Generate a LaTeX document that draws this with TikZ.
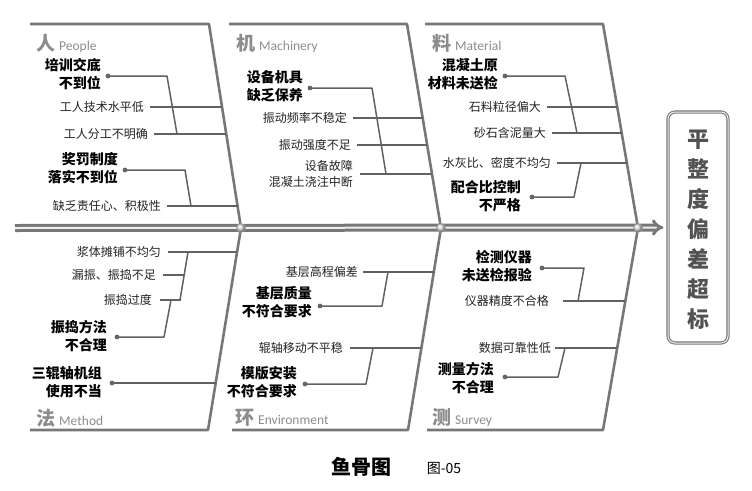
\documentclass[tikz,border=0pt]{standalone}
\usepackage{fontspec}
\setmainfont{Noto Sans CJK SC}
\newfontfamily\latinf{Carlito}
\usetikzlibrary{arrows.meta,calc,shadings}
\definecolor{linegray}{HTML}{777777}
\definecolor{labgray}{HTML}{8C8C8C}
\definecolor{txt}{HTML}{222222}
\begin{document}
\begin{tikzpicture}[x=1pt,y=-1pt,
 frame/.style={draw=linegray, line width=2.6pt, line join=round},
 sub/.style={draw=black!62, line width=1.5pt, line join=round},
 item/.style={inner sep=0pt, text=txt, font=\fontsize{12}{16}\selectfont, align=right, anchor=east},
 bolditem/.style={inner sep=0pt, text=black, font=\fontsize{14}{18}\selectfont\bfseries, align=right, anchor=east},
 cat/.style={inner sep=0pt, anchor=west, text=labgray},
 dotc/.style={fill=black!60, draw=none},
 ball/.style={ball color=gray!25, draw=gray!70, line width=0.4pt},
]
\useasboundingbox (0,0) rectangle (752,490);

% ---------- frames (bones) ----------
\coordinate (TLa) at (30,24);  \coordinate (TLb) at (209,24);  \coordinate (J1) at (241,228);
\coordinate (TMa) at (229,24); \coordinate (TMb) at (407,24);  \coordinate (J2) at (441,228);
\coordinate (TRa) at (425,24); \coordinate (TRb) at (603,24);  \coordinate (J3) at (638,228);
\coordinate (BLa) at (30,430);  \coordinate (BLb) at (208,430);
\coordinate (BMa) at (232,430); \coordinate (BMb) at (408,430);
\coordinate (BRa) at (427,430); \coordinate (BRb) at (603,430);
\draw[frame] (TLa) -- (TLb) -- (J1);
\draw[frame] (TMa) -- (TMb) -- (J2);
\draw[frame] (TRa) -- (TRb) -- (J3);
\draw[frame] (BLa) -- (BLb) -- (J1);
\draw[frame] (BMa) -- (BMb) -- (J2);
\draw[frame] (BRa) -- (BRb) -- (J3);

% ---------- spine ----------
\coordinate (sp0) at (15,228);
\node[draw=linegray, line width=1.1pt, double=gray!12, double distance=1pt, rounded corners=7pt,
      minimum width=60pt, minimum height=231pt, inner sep=0pt] (head) at (698,227.5) {};
\draw[draw=linegray, line width=3pt, double=gray!12, double distance=2pt, -{Implies}] (sp0) -- ([xshift=-4pt]head.west);
\node[inner sep=0pt, font=\fontsize{22}{30}\selectfont\bfseries, text=black!68, align=center] (headtxt) at (698,230) {平\\整\\度\\偏\\差\\超\\标};
\shade[ball] (J1) circle (4.5pt);
\shade[ball] (J2) circle (4.5pt);
\shade[ball] (J3) circle (4.5pt);

% ---------- category labels ----------
\node[cat] (c1) at (36,43) {{\fontsize{19}{19}\selectfont\bfseries 人}\hspace{4pt}{\latinf\fontsize{13.5}{13.5}\selectfont People}};
\node[cat] (c2) at (236,43) {{\fontsize{19}{19}\selectfont\bfseries 机}\hspace{4pt}{\latinf\fontsize{13.5}{13.5}\selectfont Machinery}};
\node[cat] (c3) at (432,43) {{\fontsize{19}{19}\selectfont\bfseries 料}\hspace{4pt}{\latinf\fontsize{13.5}{13.5}\selectfont Material}};
\node[cat] (c4) at (36,418) {{\fontsize{19}{19}\selectfont\bfseries 法}\hspace{4pt}{\latinf\fontsize{13.5}{13.5}\selectfont Method}};
\node[cat] (c5) at (235,418) {{\fontsize{19}{19}\selectfont\bfseries 环}\hspace{4pt}{\latinf\fontsize{13.5}{13.5}\selectfont Environment}};
\node[cat] (c6) at (432,418) {{\fontsize{19}{19}\selectfont\bfseries 测}\hspace{4pt}{\latinf\fontsize{13.5}{13.5}\selectfont Survey}};

% ---------- 人 People ----------
\node[bolditem] (a1) at (101,74) {培训交底\\不到位};
\coordinate (a1d) at (108,76);
\node[item] (a2) at (144,107) {工人技术水平低};
\node[item] (a3) at (148,134) {工人分工不明确};
\node[bolditem] (a4) at (118,168) {奖罚制度\\落实不到位};
\coordinate (a4d) at (125,170);
\node[item] (a5) at (161,206) {缺乏责任心、积极性};
\draw[sub] ([xshift=6pt]a2.east) -- (222,107);
\draw[sub] ([xshift=6pt]a3.east) -- (226.3,134);
\draw[sub] ([xshift=6pt]a5.east) -- (237.5,206);
\draw[sub] (a1d) -- (167,76) -- (177,134);
\draw[sub] (a4d) -- (185,170) -- (191,206);
\fill[dotc] (a1d) circle (2.4pt);
\fill[dotc] (a4d) circle (2.4pt);

% ---------- 机 Machinery ----------
\node[bolditem, align=left] (b1) at (303,86) {设备机具\\缺乏保养};
\coordinate (b1d) at (310,88);
\node[item] (b2) at (347,118) {振动频率不稳定};
\node[item] (b3) at (351,145) {振动强度不足};
\node[item] (b4) at (353,174) {设备故障\\混凝土浇注中断};
\draw[sub] ([xshift=6pt]b2.east) -- (422.7,118);
\draw[sub] ([xshift=6pt]b3.east) -- (427.2,145);
\draw[sub] ([xshift=7pt]b4.east) -- (432,174);
\draw[sub] (b1d) -- (372,88) -- (386,174);
\fill[dotc] (b1d) circle (2.4pt);

% ---------- 料 Material ----------
\node[bolditem] (m1) at (498,74) {混凝土原\\材料未送检};
\coordinate (m1d) at (505,76);
\node[item] (m2) at (541,107) {石料粒径偏大};
\node[item] (m3) at (546,133) {砂石含泥量大};
\node[item] (m4) at (551,163) {水灰比、密度不均匀};
\node[bolditem] (m5) at (521,196) {配合比控制\\不严格};
\coordinate (m5d) at (532,197);
\draw[sub] ([xshift=6pt]m2.east) -- (617.2,107);
\draw[sub] ([xshift=6pt]m3.east) -- (621.7,133);
\draw[sub] ([xshift=6pt]m4.east) -- (626.8,163);
\draw[sub] (m1d) -- (565,76) -- (577,133);
\draw[sub] (m5d) -- (574,197) -- (581,163);
\fill[dotc] (m1d) circle (2.4pt);
\fill[dotc] (m5d) circle (2.4pt);

% ---------- 法 Method ----------
\node[item] (f1) at (161,252) {浆体摊铺不均匀};
\node[item] (f2) at (156,275) {漏振、振捣不足};
\node[item] (f3) at (152,300) {振捣过度};
\node[bolditem] (f4) at (107,336) {振捣方法\\不合理};
\coordinate (f4d) at (117,337);
\node[bolditem] (f5) at (102,382) {三辊轴机组\\使用不当};
\coordinate (f5d) at (112,383);
\draw[sub] ([xshift=7pt]f1.east) -- (237.1,252);
\draw[sub] ([xshift=7pt]f2.east) -- (185,275);
\draw[sub] ([xshift=8pt]f3.east) -- (181,300);
\draw[sub] (188,252) -- (180,300);
\draw[sub] (f4d) -- (164,337) -- (171,300);
\draw[sub] (f5d) -- (215.7,383);
\fill[dotc] (f4d) circle (2.4pt);
\fill[dotc] (f5d) circle (2.4pt);

% ---------- 环 Environment ----------
\node[item] (e1) at (358,272) {基层高程偏差};
\node[bolditem] (e2) at (312,302) {基层质量\\不符合要求};
\coordinate (e2d) at (320,306);
\node[item] (e3) at (343,348) {辊轴移动不平稳};
\node[bolditem] (e4) at (297,382) {模版安装\\不符合要求};
\coordinate (e4d) at (305,384);
\draw[sub] ([xshift=5pt]e1.east) -- (433.8,272);
\draw[sub] ([xshift=7pt]e3.east) -- (421.4,348);
\draw[sub] (e2d) -- (382,306) -- (388,272);
\draw[sub] (e4d) -- (366,384) -- (373,348);
\fill[dotc] (e2d) circle (2.4pt);
\fill[dotc] (e4d) circle (2.4pt);

% ---------- 测 Survey ----------
\node[bolditem] (s1) at (532,266) {检测仪器\\未送检报验};
\coordinate (s1d) at (542,268);
\node[item] (s2) at (549,301) {仪器精度不合格};
\node[item] (s3) at (551,348) {数据可靠性低};
\node[bolditem] (s4) at (494,378) {测量方法\\不合理};
\coordinate (s4d) at (505,377);
\draw[sub] ([xshift=14pt]s2.east) -- (625.4,301);
\draw[sub] ([xshift=4pt]s3.east) -- (617.2,348);
\draw[sub] (s1d) -- (584,268) -- (578,301);
\draw[sub] (s4d) -- (558,377) -- (565,348);
\fill[dotc] (s1d) circle (2.4pt);
\fill[dotc] (s4d) circle (2.4pt);

% ---------- caption ----------
\node[inner sep=0pt, font=\fontsize{20}{20}\selectfont\bfseries] (cap) at (361,467) {鱼骨图};
\node[inner sep=0pt, font=\fontsize{14}{14}\selectfont] (fig) at (444,468) {图-05};
\end{tikzpicture}
\end{document}
